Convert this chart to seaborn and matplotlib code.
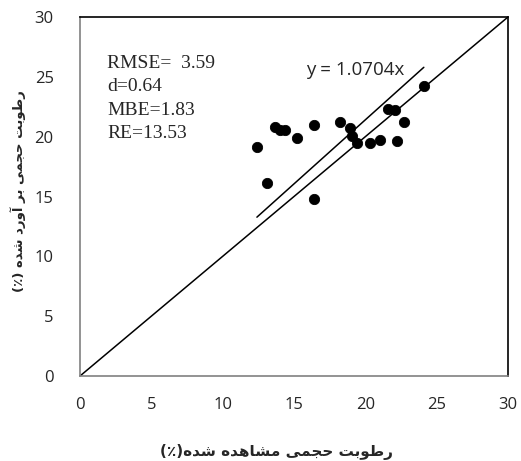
import numpy as np
import pandas as pd
import matplotlib
matplotlib.use("Agg")
import matplotlib.pyplot as plt
import seaborn as sns

# observed vs. estimated volumetric moisture (%)
observed = [12.4, 13.1, 13.7, 14.0, 14.4, 15.2, 16.4, 16.4, 18.2, 18.9,
            19.1, 19.4, 20.3, 21.0, 21.6, 22.1, 22.2, 22.7, 24.1]
estimated = [19.1, 16.1, 20.8, 20.55, 20.55, 19.9, 20.95, 14.8, 21.2, 20.7,
             20.05, 19.5, 19.5, 19.75, 22.35, 22.2, 19.6, 21.2, 24.2]
slope = 1.0704
stats_lines = ["RMSE=  3.59", "d=0.64", "MBE=1.83", "RE=13.53"]
ticks = [0, 5, 10, 15, 20, 25, 30]

xlabel = "رطوبت حجمی مشاهده شده(٪)"
ylabel = "رطوبت حجمی بر آورد شده (٪)"

# arabic/persian shaping by hand (isolated, final, initial, medial)
FORMS = {
    "\u0627": ("\uFE8D", "\uFE8E", None, None),
    "\u0622": ("\uFE81", "\uFE82", None, None),
    "\u0628": ("\uFE8F", "\uFE90", "\uFE91", "\uFE92"),
    "\u062A": ("\uFE95", "\uFE96", "\uFE97", "\uFE98"),
    "\u062C": ("\uFE9D", "\uFE9E", "\uFE9F", "\uFEA0"),
    "\u062D": ("\uFEA1", "\uFEA2", "\uFEA3", "\uFEA4"),
    "\u062F": ("\uFEA9", "\uFEAA", None, None),
    "\u0631": ("\uFEAD", "\uFEAE", None, None),
    "\u0634": ("\uFEB5", "\uFEB6", "\uFEB7", "\uFEB8"),
    "\u0637": ("\uFEC1", "\uFEC2", "\uFEC3", "\uFEC4"),
    "\u0645": ("\uFEE1", "\uFEE2", "\uFEE3", "\uFEE4"),
    "\u0647": ("\uFEE9", "\uFEEA", "\uFEEB", "\uFEEC"),
    "\u0648": ("\uFEED", "\uFEEE", None, None),
    "\u06CC": ("\uFBFC", "\uFBFD", "\uFBFE", "\uFBFF"),
}


def shape(text):
    out = []
    for i, ch in enumerate(text):
        if ch not in FORMS:
            out.append(ch)
            continue
        prev = text[i - 1] if i > 0 else ""
        nxt = text[i + 1] if i + 1 < len(text) else ""
        jp = prev in FORMS and FORMS[prev][2] is not None
        jn = FORMS[ch][2] is not None and nxt in FORMS
        iso, fin, ini, med = FORMS[ch]
        if jp and jn:
            out.append(med)
        elif jp:
            out.append(fin)
        elif jn:
            out.append(ini)
        else:
            out.append(iso)
    vis = "".join(reversed(out))
    return vis.replace("(", "\0").replace(")", "(").replace("\0", ")")


sns.set_style("white")
plt.rcParams["font.family"] = ["Open Sans", "DejaVu Sans"]

fig = plt.figure(figsize=(5.21, 4.61), dpi=100)
ax = fig.add_axes([0.1536, 0.1844, 0.8214, 0.7787])

df = pd.DataFrame({"obs": observed, "est": estimated})
line_x = np.array([0, 30])
sns.lineplot(x=line_x, y=line_x, color="black", lw=1.1, ax=ax)
fit_x = np.array([min(observed), max(observed)])
sns.lineplot(x=fit_x, y=slope * fit_x, color="black", lw=1.1, ax=ax)
sns.scatterplot(data=df, x="obs", y="est", color="black", s=55,
                edgecolor="black", zorder=3, ax=ax)

ax.set_xlim(0, 30)
ax.set_ylim(0, 30)
ax.set_xticks(ticks)
ax.set_yticks(ticks)
ax.tick_params(axis="both", direction="out", length=5, width=1,
               color="#808080", labelsize=12)
ax.tick_params(axis="x", pad=10)
ax.tick_params(axis="y", pad=14)
for side in ["left", "bottom"]:
    ax.spines[side].set_color("#808080")
for side in ["top", "right"]:
    ax.spines[side].set_color("black")
for sp in ax.spines.values():
    sp.set_linewidth(1.2)

ax.set_xlabel("")
ax.set_ylabel("")
fig.text(0.53, 0.02, shape(xlabel), ha="center", va="center",
         fontsize=11, fontweight="bold", family="DejaVu Sans")
fig.text(0.035, 0.585, shape(ylabel), ha="center", va="center", rotation=90,
         fontsize=9.5, fontweight="bold", family="DejaVu Sans")

ax.text(1.9, 23.2, "\n".join(stats_lines), ha="left", va="center",
        fontsize=14, family="Liberation Serif", linespacing=1.5)
ax.annotate(f"y = {slope}x", (19.3, 25.6), ha="center", va="center",
            fontsize=13.5)

fig.savefig("out.png", dpi=100)
